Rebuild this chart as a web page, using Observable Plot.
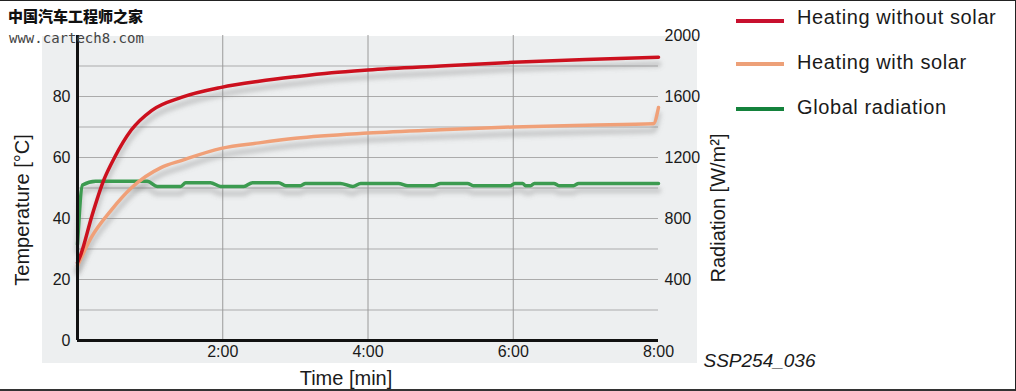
<!DOCTYPE html>
<html><head><meta charset="utf-8">
<script src="https://cdn.jsdelivr.net/npm/d3@7"></script>
<script src="https://cdn.jsdelivr.net/npm/@observablehq/plot@0.6"></script>
<style>
html,body{margin:0;padding:0;background:#fff;}
#wrap{position:relative;width:1016px;height:391px;overflow:hidden;font-family:"Liberation Sans",Arial,sans-serif;}
#panel{position:absolute;left:42px;top:36px;width:655px;height:327px;background:#edeff0;}
#chart{position:absolute;left:0;top:0;}
.frame{position:absolute;left:0;top:0;width:1016px;height:391px;box-sizing:border-box;border-top:1px solid #222;border-right:1px solid #222;border-bottom:2px solid #333;pointer-events:none;}
.sw{position:absolute;left:736px;width:48px;height:4px;}
.lt{position:absolute;left:797px;font-size:20px;letter-spacing:0.6px;color:#1a1a1a;line-height:1;white-space:nowrap;}
.wm1{position:absolute;left:8px;top:8px;font-family:"Noto Sans CJK SC";font-weight:900;font-size:15px;line-height:1;color:#111;}
.wm2{position:absolute;left:9px;top:31px;font-family:"DejaVu Sans Mono",monospace;font-size:14px;line-height:1;color:#444;}
</style></head>
<body>
<div id="wrap">
  <div id="panel"></div>
  <div id="chart"></div>
  <div id="legend"></div>
  <div class="wm1">中国汽车工程师之家</div>
  <div class="wm2">www.cartech8.com</div>
  <div class="frame"></div>
</div>
<script>
// ---- Data ----
const timeRed   = [0, 0.05, 0.2, 0.36, 0.51, 0.74, 1.02, 1.43, 1.98, 2.5, 3.0, 3.5, 4.0, 5.0, 6.0, 7.0, 8.0];
const tempRed   = [25.5, 28.5, 41, 52.5, 60, 69, 75.4, 79.7, 83, 85, 86.5, 87.8, 88.7, 90, 91.2, 92.1, 92.9];

const timeOrange = [0, 0.19, 0.46, 0.74, 1.15, 1.43, 1.98, 2.5, 3.0, 4.0, 5.0, 6.0, 7.0, 7.93, 8.0];
const tempOrange = [24.5, 33.8, 42.6, 50, 56.7, 59, 63, 64.8, 66.3, 68, 69.1, 70, 70.6, 71.1, 76.4];

const timeGreen = [0, 0.07, 0.25, 0.96, 1.10, 1.42, 1.49, 1.83, 1.97, 2.29, 2.41, 2.77, 2.87, 3.07, 3.14, 3.62, 3.79, 3.90, 4.42, 4.55, 4.90, 5.00, 5.37, 5.45, 5.96, 6.02, 6.13, 6.17, 6.24, 6.29, 6.56, 6.63, 6.83, 6.90, 8.00];
const radGreen  = [630, 1020, 1045, 1045, 1010, 1010, 1035, 1035, 1010, 1010, 1035, 1035, 1015, 1015, 1030, 1030, 1010, 1030, 1030, 1015, 1015, 1030, 1030, 1015, 1015, 1030, 1030, 1015, 1015, 1030, 1030, 1015, 1015, 1030, 1030];

const seriesNames  = ["Heating without solar", "Heating with solar", "Global radiation"];
const seriesColors = ["#cc101e", "#f0a078", "#3c9b50"];
const legendColors = ["#c8102e", "#eda078", "#14823c"];

const leftTicks  = [0, 20, 40, 60, 80];
const rightTicks = [400, 800, 1200, 1600, 2000];
const timeTicks  = [2, 4, 6, 8];
const tempGrid   = [10, 20, 30, 40, 50, 60, 70, 80, 90];
const timeGrid   = [2, 4, 6];

const RAD_PER_DEG = 20; // 2000 W/m² on the right axis ↔ 100 °C on the left axis

const red    = timeRed.map((t, i) => ({t, v: tempRed[i]}));
const orange = timeOrange.map((t, i) => ({t, v: tempOrange[i]}));
const green  = timeGreen.map((t, i) => ({t, v: radGreen[i] / RAD_PER_DEG}));

const SHADOW = "#7a7a7b";
const shadow = (data) => Plot.line(data, {x: "t", y: "v", stroke: SHADOW, strokeWidth: 6, strokeOpacity: 0.3, dy: 7, curve: "monotone-x"});

const plot = Plot.plot({
  width: 1016, height: 391,
  marginLeft: 77, marginRight: 358, marginTop: 35, marginBottom: 51,
  style: {background: "transparent", fontFamily: "'Liberation Sans', Arial, sans-serif", fontSize: "16px", color: "#1a1a1a", overflow: "visible"},
  x: {domain: [0, 8]},
  y: {domain: [0, 100]},
  marks: [
    Plot.ruleY(tempGrid, {stroke: "#ababab", strokeWidth: 1.2}),
    Plot.ruleX(timeGrid, {stroke: "#9a9a9a", strokeWidth: 1}),
    shadow(green), shadow(orange), shadow(red),
    Plot.line(green,  {x: "t", y: "v", stroke: seriesColors[2], strokeWidth: 3.5, curve: "monotone-x"}),
    Plot.line(orange, {x: "t", y: "v", stroke: seriesColors[1], strokeWidth: 3.5, curve: "monotone-x"}),
    Plot.line(red,    {x: "t", y: "v", stroke: seriesColors[0], strokeWidth: 3.5, curve: "monotone-x"}),
    Plot.ruleX([0], {stroke: "#111", strokeWidth: 3}),
    Plot.ruleY([0], {stroke: "#111", strokeWidth: 3}),
    Plot.axisY({anchor: "left", ticks: leftTicks, tickSize: 0, tickPadding: 7, label: null}),
    Plot.axisY({anchor: "right", ticks: rightTicks.map(r => r / RAD_PER_DEG), tickFormat: d => String(Math.round(d * RAD_PER_DEG)), tickSize: 0, tickPadding: 6, label: null}),
    Plot.axisX({anchor: "bottom", ticks: timeTicks, tickFormat: d => `${d}:00`, tickSize: 0, tickPadding: 5, label: null}),
    Plot.text(["Temperature [°C]"], {frameAnchor: "left", rotate: -90, dx: -55, dy: 22, fontSize: 20, textAnchor: "middle", lineAnchor: "middle"}),
    Plot.text(["Radiation [W/m²]"], {frameAnchor: "right", rotate: -90, dx: 60, dy: 20, fontSize: 20, textAnchor: "middle", lineAnchor: "middle"}),
    Plot.text(["Time [min]"], {frameAnchor: "bottom", dx: -22, dy: 38, fontSize: 20, textAnchor: "middle", lineAnchor: "middle"}),
    Plot.text(["SSP254_036"], {frameAnchor: "bottom-right", dx: 45, dy: 20, fontSize: 19, fontStyle: "italic", textAnchor: "start", lineAnchor: "middle"})
  ]
});

// soft blur for the shadows
const svg = d3.select(plot);
const defs = svg.insert("defs", ":first-child");
defs.append("filter").attr("id", "blurShadow").attr("filterUnits", "userSpaceOnUse")
  .attr("x", 0).attr("y", 0).attr("width", 1016).attr("height", 391)
  .append("feGaussianBlur").attr("stdDeviation", 2);
svg.selectAll(`[stroke="${SHADOW}"]`).attr("filter", "url(#blurShadow)");

document.getElementById("chart").appendChild(plot);

// legend (HTML)
const swTops = [18.5, 62, 107];
const txTops = [7, 52, 96.5];
const leg = d3.select("#legend");
seriesNames.forEach((name, i) => {
  leg.append("div").attr("class", "sw").style("top", swTops[i] + "px").style("background", legendColors[i]);
  leg.append("div").attr("class", "lt").style("top", txTops[i] + "px").text(name);
});
</script>
</body></html>
